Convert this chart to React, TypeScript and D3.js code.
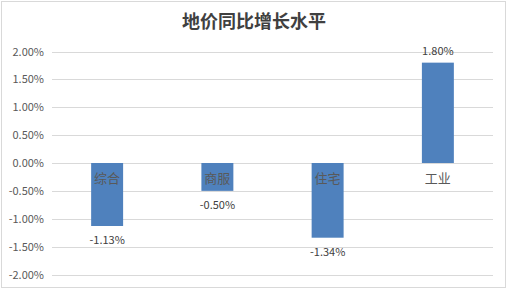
import React from "react";
import * as d3 from "d3";

const categories = ["综合", "商服", "住宅", "工业"];
const values = [-1.13, -0.5, -1.34, 1.8];
const ticks = [2, 1.5, 1, 0.5, 0, -0.5, -1, -1.5, -2];
const title = "地价同比增长水平";

const W = 508;
const H = 290;
const font = "'Microsoft YaHei','Noto Sans CJK SC','Noto Sans',sans-serif";

export default function App() {
  const x = d3.scaleBand<string>().domain(categories).range([52, 493]).paddingInner(0.71).paddingOuter(0.355);
  const y = d3.scaleLinear().domain([-2, 2]).range([274.5, 51.5]);
  const fmt = (v: number) => v.toFixed(2) + "%";
  return (
    <svg width={W} height={H} style={{ position: "absolute", left: 0, top: 0, background: "#fff" }} fontFamily={font}>
      <rect x={1.5} y={1.5} width={504} height={286} fill="#fff" stroke="#d9d9d9" />
      <text x={254} y={28} textAnchor="middle" fontSize={18} fontWeight="bold" fill="#404040">{title}</text>
      {ticks.map((t) => (
        <g key={t}>
          <line x1={52} x2={493} y1={Math.round(y(t)) + 0.5} y2={Math.round(y(t)) + 0.5} stroke="#d9d9d9" strokeWidth={1} />
          <text x={44} y={y(t) + 4} textAnchor="end" fontSize={11} fill="#595959">{fmt(t)}</text>
        </g>
      ))}
      {categories.map((c, i) => {
        const v = values[i];
        const x0 = x(c)!;
        const bw = x.bandwidth();
        const top = Math.min(y(v), y(0));
        const h = Math.abs(y(v) - y(0));
        return (
          <g key={c}>
            <rect x={x0} y={top} width={bw} height={h} fill="#4f81bd" />
          </g>
        );
      })}
      {categories.map((c, i) => {
        const v = values[i];
        const cx = x(c)! + x.bandwidth() / 2;
        const ly = v < 0 ? y(v) + 18 : y(v) - 8;
        return (
          <g key={c + "l"}>
            <text x={cx} y={183} textAnchor="middle" fontSize={13} fill="#595959">{c}</text>
            <text x={cx} y={ly} textAnchor="middle" fontSize={11} fill="#404040">{fmt(v)}</text>
          </g>
        );
      })}
    </svg>
  );
}
